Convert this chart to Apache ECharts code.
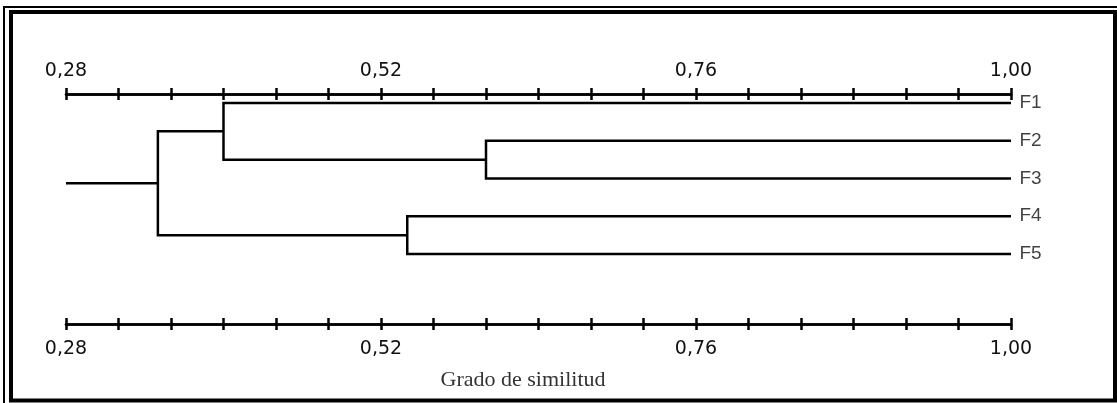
<!DOCTYPE html>
<html>
<head>
<meta charset="utf-8">
<title>Dendrograma — Grado de similitud</title>
<script src="https://cdn.jsdelivr.net/npm/echarts@6/dist/echarts.min.js"></script>
<style>
  html, body { margin: 0; padding: 0; background: #fff; }
  #chart { width: 1117px; height: 403px; }
</style>
</head>
<body>
<div id="chart"></div>
<script>
// Leaves, top to bottom
const leaves = ['F1', 'F2', 'F3', 'F4', 'F5'];
// Merges: [clusterA, clusterB, similarity]; ids 0-4 are leaves, new ids continue from 5
const merges = [
  [1, 2, 0.60],   // 5: F2 + F3
  [3, 4, 0.54],   // 6: F4 + F5
  [0, 5, 0.40],   // 7: F1 + (F2,F3)
  [7, 6, 0.35]    // 8: root
];
const leafSimilarity = 1.00;
const rootStart = 0.28;
// Similarity axis
const axisMin = 0.28;
const axisMax = 1.00;
const axisStep = 0.04;
const labelledTicks = [0.28, 0.52, 0.76, 1.00];
const axisTitle = 'Grado de similitud';

// Build dendrogram links from the merge list
const nodes = leaves.map((n, i) => ({ x: leafSimilarity, y: i + 1 }));
const links = [];
merges.forEach(([a, b, s]) => {
  const A = nodes[a], B = nodes[b];
  links.push({ coords: [[A.x, A.y], [s, A.y], [s, B.y], [B.x, B.y]] });
  nodes.push({ x: s, y: (A.y + B.y) / 2 });
});
const root = nodes[nodes.length - 1];
links.push({ coords: [[rootStart, root.y], [root.x, root.y]] });

const fmt = v => {
  const hit = labelledTicks.some(t => Math.abs(t - v) < 1e-6);
  return hit ? v.toFixed(2).replace('.', ',') : '';
};

const labelFont = { fontFamily: '"DejaVu Sans", sans-serif', fontSize: 19, color: '#111' };

function simAxis(position, inside, showLabel, margin) {
  return {
    type: 'value',
    position: position,
    min: axisMin,
    max: axisMax,
    interval: axisStep,
    gridIndex: 0,
    axisLine: { show: true, onZero: false, lineStyle: { color: '#000', width: 2.5 } },
    axisTick: { show: true, inside: inside, length: 6, lineStyle: { color: '#000', width: 2.5 } },
    splitLine: { show: false },
    axisLabel: Object.assign({ show: showLabel, margin: margin, formatter: fmt,
      showMinLabel: true, showMaxLabel: true }, labelFont)
  };
}

const chart = echarts.init(document.getElementById('chart'), null, { renderer: 'canvas' });
chart.setOption({
  animation: false,
  backgroundColor: '#fff',
  grid: { left: 66, right: 106, top: 94, bottom: 79, containLabel: false },
  xAxis: [
    simAxis('top', false, true, 13),
    simAxis('top', true, false, 8),
    simAxis('bottom', false, true, 16),
    simAxis('bottom', true, false, 8)
  ],
  yAxis: {
    type: 'value',
    inverse: true,
    min: 0.7616,
    max: 6.854,
    show: false
  },
  graphic: [
    { type: 'rect', silent: true, z: 100,
      shape: { x: 4, y: 7, width: 1200, height: 1000 },
      style: { fill: 'none', stroke: '#000', lineWidth: 2 } },
    { type: 'rect', silent: true, z: 100,
      shape: { x: 11, y: 12, width: 1104, height: 388.5 },
      style: { fill: 'none', stroke: '#000', lineWidth: 4 } },
    { type: 'text', silent: true, x: 523, y: 380,
      style: { text: axisTitle, fontFamily: '"Liberation Serif", serif', fontSize: 22,
        fill: '#333', align: 'center', verticalAlign: 'middle' } }
  ],
  series: [
    {
      type: 'lines',
      coordinateSystem: 'cartesian2d',
      xAxisIndex: 0,
      yAxisIndex: 0,
      polyline: true,
      silent: true,
      lineStyle: { color: '#000', width: 2.5, opacity: 1 },
      data: links
    },
    {
      type: 'scatter',
      xAxisIndex: 0,
      yAxisIndex: 0,
      silent: true,
      symbolSize: 1,
      itemStyle: { color: 'rgba(0,0,0,0)' },
      data: leaves.map((n, i) => ({ name: n, value: [leafSimilarity, i + 1] })),
      label: {
        show: true,
        position: 'right',
        distance: 8,
        formatter: '{b}',
        fontFamily: '"Liberation Sans", Arial, sans-serif',
        fontSize: 19,
        color: '#111'
      }
    }
  ]
});
</script>
</body>
</html>
